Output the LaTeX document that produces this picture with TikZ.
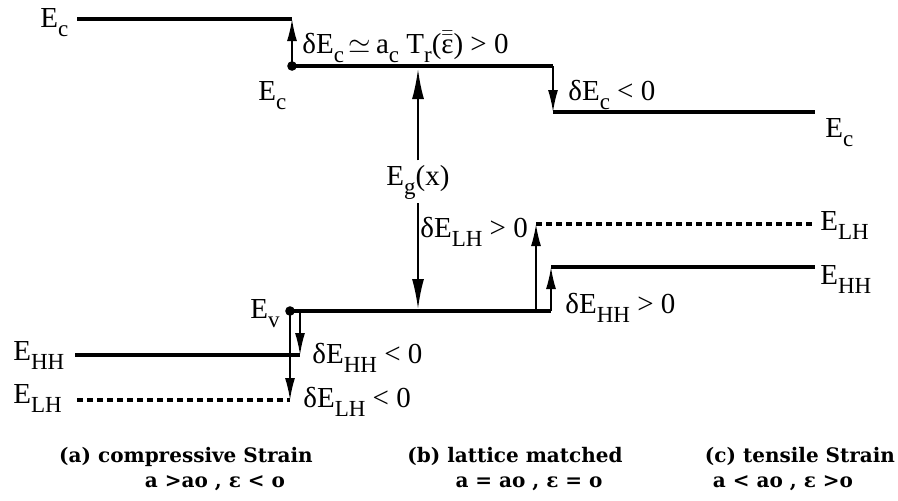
\documentclass[tikz,border=0pt]{standalone}
\usepackage{fontspec}
\setmainfont{Liberation Serif}
\newfontfamily\capfont{DejaVu Serif}
\usetikzlibrary{arrows.meta}
\newcommand\lo[1]{\raisebox{-4.5pt}{\fontsize{11.5pt}{12pt}\selectfont #1}}
\tikzset{
  lvl/.style={line width=1.6pt},
  lvldash/.style={line width=1.6pt, dash pattern=on 3pt off 2pt},
  arr/.style={line width=0.9pt, -{Latex[length=11pt,width=5pt]}},
  egarr/.style={line width=1pt, -{Latex[length=15pt,width=6pt]}},
  dotn/.style={circle, fill=black, inner sep=0pt, minimum size=4.8pt},
  lab/.style={inner sep=0pt, anchor=base west, font=\fontsize{14.5pt}{17pt}\selectfont},
  captext/.style={inner sep=0pt, anchor=base, font=\capfont\bfseries\fontsize{10pt}{12pt}\selectfont}
}
\begin{document}
\begin{tikzpicture}[x=0.5pt,y=-0.5pt]
\useasboundingbox (0,0) rectangle (898,500);
% ---------- conduction band ----------
\coordinate (ecL) at (77,19);
\coordinate (ecLc) at (292,19);
\coordinate (ecM) at (292,66);
\coordinate (ecMr) at (553,66);
\coordinate (ecR) at (553,112);
\coordinate (ecRe) at (815,112);
\draw[lvl] (ecL) -- (ecLc);
\draw[lvl] (ecM) -- (ecMr);
\draw[lvl] (ecR) -- (ecRe);
\draw[arr] (ecM) -- (ecLc);
\draw[arr] (ecMr) -- (ecR);
\node[dotn] (d1) at (ecM) {};
% ---------- valence band ----------
\coordinate (ev) at (290,311);
\coordinate (evH) at (300,311);
\coordinate (lhB) at (536,311);
\coordinate (evR) at (551,311);
\coordinate (hhC) at (551,267);
\coordinate (hhE) at (815,267);
\coordinate (lhC) at (536,224);
\coordinate (lhE) at (815,224);
\coordinate (hhL) at (75,355);
\coordinate (hhLc) at (300,355);
\coordinate (lhL) at (77,400);
\coordinate (lhLc) at (290,400);
\draw[lvl] (ev) -- (evR);
\draw[lvl] (hhC) -- (hhE);
\draw[lvldash] (lhC) -- (lhE);
\draw[lvl] (hhL) -- (hhLc);
\draw[lvldash] (lhL) -- (lhLc);
\draw[arr] (lhB) -- (lhC);
\draw[arr] (evR) -- (hhC);
\draw[arr] (evH) -- (hhLc);
\draw[arr] (ev) -- (lhLc);
\node[dotn] (d2) at (ev) {};
% ---------- band gap ----------
\node[lab, anchor=base, inner sep=2pt] (eg) at (418,185) {E\lo{g}(x)};
\coordinate (egT) at (418,69);
\coordinate (egB) at (418,309);
\draw[egarr] (eg) -- (egT);
\draw[egarr] (eg) -- (egB);
% ---------- labels ----------
\node[lab] (lecL) at (40,27) {E\lo{c}};
\node[lab] (lecM) at (258,100) {E\lo{c}};
\node[lab] (lecR) at (825,137) {E\lo{c}};
\node[lab] (ldEc1) at (302,53) {δE\lo{c}\,$\simeq$\,a\lo{c} T\lo{r}($\bar{\bar{\mbox{ε}}}$) > 0};
\node[lab] (ldEc2) at (568,100) {δE\lo{c} < 0};
\node[lab] (ldLHp) at (420,237) {δE\lo{LH} > 0};
\node[lab] (lLHr) at (820,230) {E\lo{LH}};
\node[lab] (lHHr) at (820,284) {E\lo{HH}};
\node[lab] (ldHHp) at (565,313) {δE\lo{HH} > 0};
\node[lab] (lev) at (250,318) {E\lo{v}};
\node[lab] (lHHl) at (13,360) {E\lo{HH}};
\node[lab] (lLHl) at (13,403) {E\lo{LH}};
\node[lab] (ldHHn) at (312,363) {δE\lo{HH} < 0};
\node[lab] (ldLHn) at (303,407) {δE\lo{LH} < 0};
% ---------- captions ----------
\node[captext] (capA) at (186,462) {(a) compressive Strain};
\node[captext] (capA2) at (215,487) {a >ao , ε < o};
\node[captext] (capB) at (515,462) {(b) lattice matched};
\node[captext] (capB2) at (529,487) {a = ao , ε = o};
\node[captext] (capC) at (800,462) {(c) tensile Strain};
\node[captext] (capC2) at (783,487) {a < ao , ε >o};
\end{tikzpicture}
\end{document}
